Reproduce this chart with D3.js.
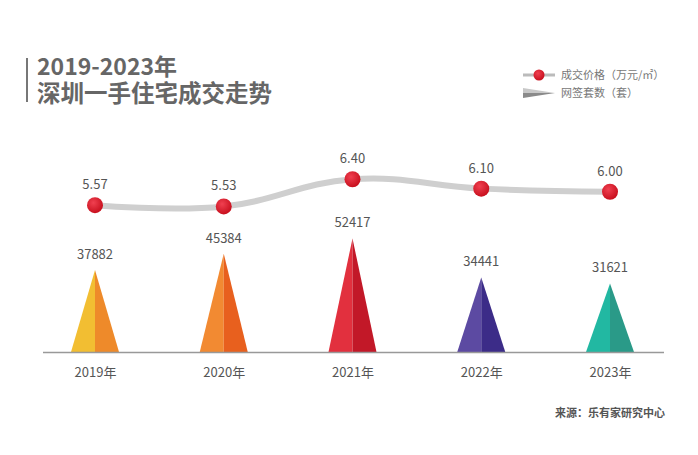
<!DOCTYPE html>
<html><head><meta charset="utf-8">
<script src="https://cdn.jsdelivr.net/npm/d3@7"></script>
<style>body{margin:0;background:#fff;}svg{display:block;font-family:"Noto Sans CJK SC","Noto Sans",sans-serif;}</style>
</head><body><svg id="c" width="698" height="455"></svg>
<script>
const years = ["2019年","2020年","2021年","2022年","2023年"];
const prices = [5.57, 5.53, 6.40, 6.10, 6.00];
const priceLabels = ["5.57","5.53","6.40","6.10","6.00"];
const deals = [37882, 45384, 52417, 34441, 31621];
const lightColors = ["#F2BE32","#F28A32","#E2303E","#5C4AA2","#22B8A2"];
const darkColors  = ["#EE8A2A","#E8601E","#C21828","#3C2C88","#2A9A88"];

const svg = d3.select("#c");
const x = d3.scalePoint().domain(years).range([95, 610]);
const yDeal = d3.scaleLinear().domain([0, 60000]).range([352, 222]);
const yPrice = d3.scaleLinear().domain([5, 7]).range([223, 160.5]);

// title
svg.append("rect").attr("x",26).attr("y",58).attr("width",2).attr("height",44).attr("fill","#777");
svg.append("text").attr("x",37).attr("y",75).attr("font-size",23).attr("font-weight","bold").attr("fill","#666").text("2019-2023年");
svg.append("text").attr("x",37).attr("y",102).attr("font-size",23.5).attr("font-weight","bold").attr("fill","#666").text("深圳一手住宅成交走势");

// legend
const defs = svg.append("defs");
const rg = defs.append("radialGradient").attr("id","dot").attr("cx","40%").attr("cy","35%").attr("r","65%");
rg.append("stop").attr("offset","0%").attr("stop-color","#F04050");
rg.append("stop").attr("offset","100%").attr("stop-color","#C8101E");
svg.append("line").attr("x1",523).attr("x2",555).attr("y1",75).attr("y2",75).attr("stroke","#bbb").attr("stroke-width",3);
svg.append("circle").attr("cx",539).attr("cy",75).attr("r",5.5).attr("fill","url(#dot)");
svg.append("text").attr("x",561).attr("y",79).attr("font-size",11).attr("fill","#777").text("成交价格（万元/㎡）");
svg.append("path").attr("d","M523,88L555,93L523,93Z").attr("fill","#c8c8c8");
svg.append("path").attr("d","M523,93L555,93L523,98Z").attr("fill","#8a8a8a");
svg.append("text").attr("x",561).attr("y",97).attr("font-size",11).attr("fill","#777").text("网签套数（套）");

// triangles
const hw = 24;
const g = svg.append("g");
years.forEach((yr,i)=>{
  const cx = x(yr), top = yDeal(deals[i]), base = yDeal(0);
  g.append("path").attr("d",`M${cx-hw},${base}L${cx},${top}L${cx},${base}Z`).attr("fill",lightColors[i]);
  g.append("path").attr("d",`M${cx},${base}L${cx},${top}L${cx+hw},${base}Z`).attr("fill",darkColors[i]);
  g.append("text").attr("x",cx).attr("y",top-11).attr("text-anchor","middle").attr("font-size",13).attr("fill","#555").text(deals[i]);
});

// axis
const ax = svg.append("g").attr("transform","translate(0,352)").call(d3.axisBottom(x).tickSize(0).tickPadding(16));
ax.select(".domain").attr("d","M43,0.5H664").attr("stroke","#999").attr("stroke-width",1.5);
ax.selectAll("text").attr("font-size",13).attr("fill","#555").attr("font-family","\"Noto Sans CJK SC\",sans-serif");

// price line
const line = d3.line().x((d,i)=>x(years[i])).y(d=>yPrice(d)).curve(d3.curveCardinal.tension(-0.2));
svg.append("path").datum(prices).attr("d",line).attr("fill","none").attr("stroke","#cfcfcf").attr("stroke-width",6).attr("stroke-linecap","round");
prices.forEach((p,i)=>{
  svg.append("circle").attr("cx",x(years[i])).attr("cy",yPrice(p)).attr("r",8).attr("fill","url(#dot)");
  svg.append("text").attr("x",x(years[i])).attr("y",yPrice(p)-16).attr("text-anchor","middle").attr("font-size",13).attr("fill","#555").text(priceLabels[i]);
});

// source
svg.append("text").attr("x",665).attr("y",417).attr("text-anchor","end").attr("font-size",11).attr("font-weight","bold").attr("fill","#555").text("来源：乐有家研究中心");
</script></body></html>
